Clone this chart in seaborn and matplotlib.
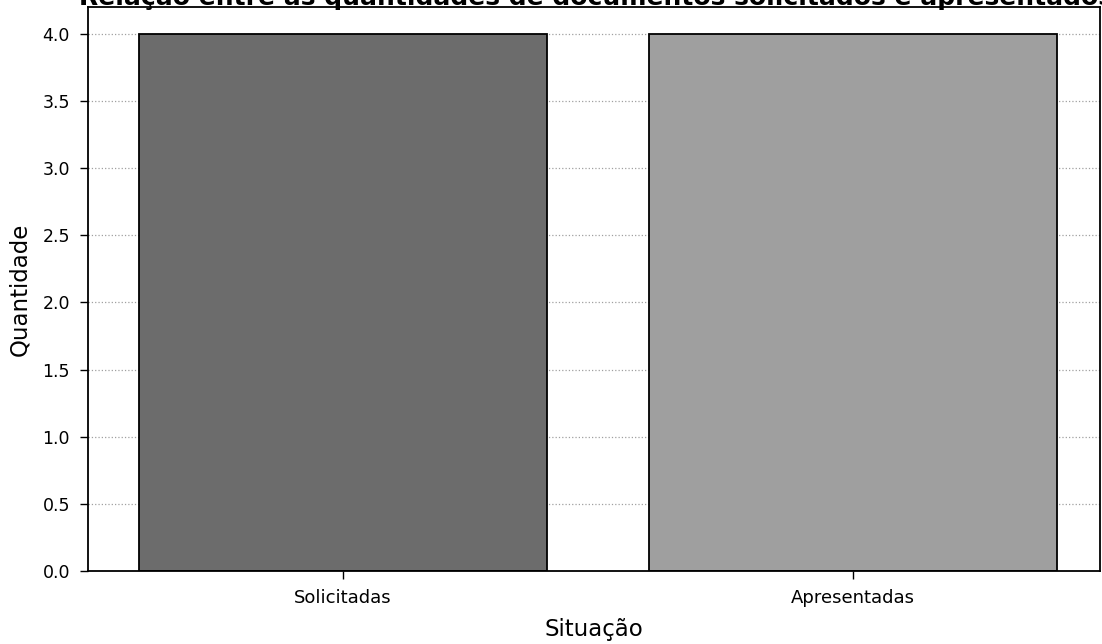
import matplotlib
matplotlib.use("Agg")
import matplotlib.pyplot as plt
import seaborn as sns
import pandas as pd

categories = ["Solicitadas", "Apresentadas"]
values = [4, 4]
bar_colors = ["#6c6c6c", "#9f9f9f"]
title_text = "Relação entre as quantidades de documentos solicitados e apresentados"

sns.set_theme(style="white")
plt.rcParams['font.family'] = ['DejaVu Sans']
plt.rcParams['text.color'] = 'black'
plt.rcParams['axes.labelcolor'] = 'black'
plt.rcParams['xtick.color'] = 'black'
plt.rcParams['ytick.color'] = 'black'

df = pd.DataFrame({"Situação": categories, "Quantidade": values})

W, H = 1102, 644
left, right, top, bottom = 88, 1100, 7, 571
fig = plt.figure(figsize=(W / 100, H / 100), dpi=100)
ax = fig.add_axes([left / W, 1 - bottom / H, (right - left) / W, (bottom - top) / H])

sns.barplot(data=df, x="Situação", y="Quantidade", hue="Situação",
            palette=bar_colors, edgecolor="black", linewidth=1.3,
            width=0.8, legend=False, ax=ax, zorder=2)

ax.set_xlim(-0.5, 1.485)
ax.set_ylim(0, 4.2)
yt = [0, 0.5, 1.0, 1.5, 2.0, 2.5, 3.0, 3.5, 4.0]
ax.set_yticks(yt)
ax.set_yticklabels([f"{v:.1f}" for v in yt])
ax.yaxis.grid(True, linestyle=":", color="#a0a0a0", linewidth=0.9, zorder=0)
ax.set_axisbelow(True)
ax.tick_params(axis="y", direction="out", length=6, width=1, pad=7,
               left=True, labelsize=12.5)
ax.tick_params(axis="x", direction="out", length=6, width=1, pad=7,
               bottom=True, labelsize=13)
for s in ax.spines.values():
    s.set_color("black")
    s.set_linewidth(1.3)
ax.set_xlabel("Situação", fontsize=16.5, labelpad=8)
ax.set_ylabel("Quantidade", fontsize=16.5, labelpad=8)

fig.text(1.01, 1 - 5 / H, title_text, ha="right", va="baseline",
         fontsize=18, fontweight="bold")

fig.savefig("out.png", dpi=100)
